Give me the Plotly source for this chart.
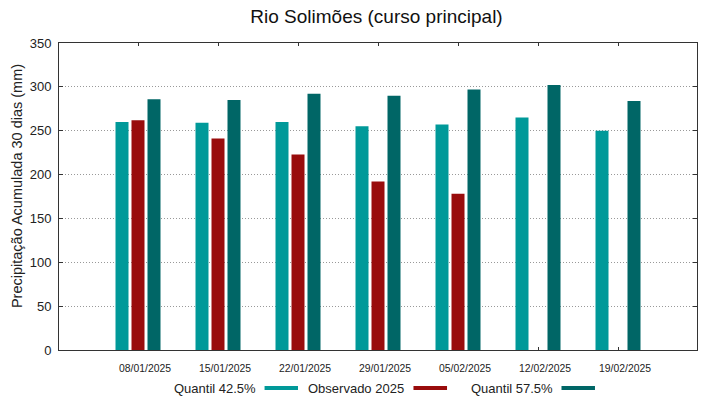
import plotly.graph_objects as go

# ---- data ----
dates = ["08/01/2025", "15/01/2025", "22/01/2025", "29/01/2025",
         "05/02/2025", "12/02/2025", "19/02/2025"]
q425 = [260, 259, 260, 255, 257, 265, 250]
obs2025 = [262, 241, 223, 192, 178, None, None]
q575 = [286, 285, 292, 290, 297, 302, 284]
series_names = ["Quantil 42.5%", "Observado 2025", "Quantil 57.5%"]
series_colors = ["#009999", "#990c0c", "#006666"]
yticks = [0, 50, 100, 150, 200, 250, 300, 350]

FONT = "Liberation Sans, Arial, sans-serif"
xpos = list(range(len(dates)))

fig = go.Figure()
for name, vals, col in zip(series_names, [q425, obs2025, q575], series_colors):
    fig.add_trace(go.Bar(
        x=xpos, y=vals, name=name,
        marker=dict(color=col, line=dict(width=0)),
        showlegend=False,
    ))

# custom legend (text left of sample, as in the reference)
leg_y = -0.124
text_right = [0.3114, 0.5436, 0.7774]
samp_x0 = [0.3222, 0.5556, 0.7876]
samp_x1 = [0.3746, 0.6082, 0.8401]
for name, col, tr, s0, s1 in zip(series_names, series_colors, text_right, samp_x0, samp_x1):
    fig.add_annotation(
        x=tr, y=leg_y, xref="paper", yref="paper", text=name,
        showarrow=False, xanchor="right", yanchor="middle",
        font=dict(family=FONT, size=13, color="#222222"),
    )
    fig.add_shape(
        type="line", xref="paper", yref="paper",
        x0=s0, x1=s1, y0=leg_y, y1=leg_y,
        line=dict(color=col, width=4),
    )

# y-axis title placed as in the reference
fig.add_annotation(
    x=-0.0658, y=0.534, xref="paper", yref="paper",
    text="Precipitação Acumulada 30 dias (mm)", textangle=-90,
    showarrow=False, xanchor="center", yanchor="middle",
    font=dict(family=FONT, size=14.5, color="#222222"),
)

fig.update_layout(
    width=719, height=399,
    margin=dict(l=59, r=22, t=43, b=49),
    paper_bgcolor="white", plot_bgcolor="white",
    barmode="group", bargap=0.4, bargroupgap=0.1875,
    font=dict(family=FONT, color="#222222"),
    title=dict(
        text="Rio Solimões (curso principal)",
        x=376.5 / 719, xanchor="center",
        y=1 - 16 / 399, yanchor="middle", yref="container",
        font=dict(family=FONT, size=19, color="#111111"),
    ),
    xaxis=dict(
        range=[-0.9875, 6.9875],
        tickvals=xpos, ticktext=dates,
        ticks="inside", ticklen=3, tickcolor="#333333",
        ticklabelshift=7, ticklabelstandoff=9,
        showline=True, linecolor="#333333", linewidth=1, mirror="ticks",
        showgrid=False, zeroline=False,
        layer="below traces",
        tickfont=dict(family=FONT, size=10.4, color="#222222"),
    ),
    yaxis=dict(
        range=[0, 350],
        tickvals=yticks,
        ticks="inside", ticklen=4, tickcolor="#333333",
        showline=True, linecolor="#333333", linewidth=1, mirror="ticks",
        showgrid=True, gridcolor="#999999", griddash="1px,2px", gridwidth=1,
        zeroline=False,
        ticklabelstandoff=4,
        tickfont=dict(family=FONT, size=13, color="#222222"),
    ),
)

fig.write_html(
    "out.html",
    config={"displayModeBar": False},
    post_script="document.body.style.margin='0';document.body.style.padding='0';",
)
